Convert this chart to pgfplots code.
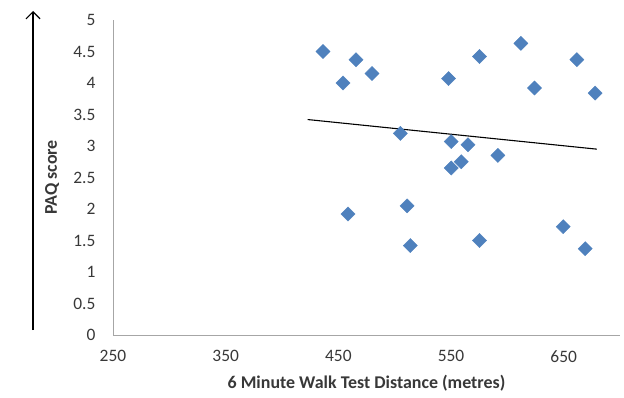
\documentclass[border=0pt]{standalone}
\usepackage{pgfplots}
\pgfplotsset{compat=1.18}
\usepackage{fontspec}
\setmainfont{Carlito}
\usetikzlibrary{arrows.meta}
\definecolor{ptblue}{HTML}{4F81BD}
\definecolor{axgray}{HTML}{A6A6A6}
\definecolor{txtgray}{HTML}{383838}
\begin{document}
\begin{tikzpicture}[x=1bp,y=1bp]
\useasboundingbox (0,0) rectangle (624,397);
\draw[line width=1.2bp,-{Straight Barb[length=7bp,width=14bp]}] (33,67) -- (33,386);
\begin{axis}[
  at={(113bp,62bp)}, anchor=south west,
  width=507bp, height=315bp, scale only axis,
  xmin=250, xmax=700, ymin=0, ymax=5,
  axis lines*=left,
  axis line style={axgray, line width=1bp},
  xtick={250,350,450,550,650},
  ytick={0,0.5,...,5},
  major tick length=0pt,
  /pgf/number format/assume math mode=true,
  ticklabel style={font=\fontsize{17.5}{19}\selectfont, text=txtgray},
  yticklabel style={xshift=-14bp, /pgf/number format/fixed},
  xticklabel style={yshift=-12bp},
  xlabel={6 Minute Walk Test Distance (metres)},
  ylabel={PAQ score},
  label style={font=\fontsize{18}{20}\selectfont\bfseries, text=txtgray},
  xlabel style={at={(axis description cs:0.5,-0.152)}, anchor=center},
  ylabel style={at={(axis description cs:-0.12,0.5)}, anchor=center},
  clip=false,
]
\addplot[only marks, mark=square*, mark size=5bp, mark options={rotate=45, fill=ptblue, draw=ptblue}]
coordinates {
(436.4,4.50) (465.7,4.37) (479.9,4.15) (454.2,4.00) (547.8,4.07)
(575.3,4.42) (612,4.63) (624.1,3.92) (661.7,4.37) (677.9,3.84)
(505,3.20) (550.2,3.07) (565,3.02) (591.6,2.85) (550.2,2.65)
(559.1,2.75) (458.6,1.92) (511,2.05) (513.9,1.42) (575.3,1.50)
(649.6,1.72) (669.1,1.37)
};
\addplot[black, line width=1.1bp] coordinates {(422.8,3.42) (679.4,2.95)};
\end{axis}
\end{tikzpicture}
\end{document}
